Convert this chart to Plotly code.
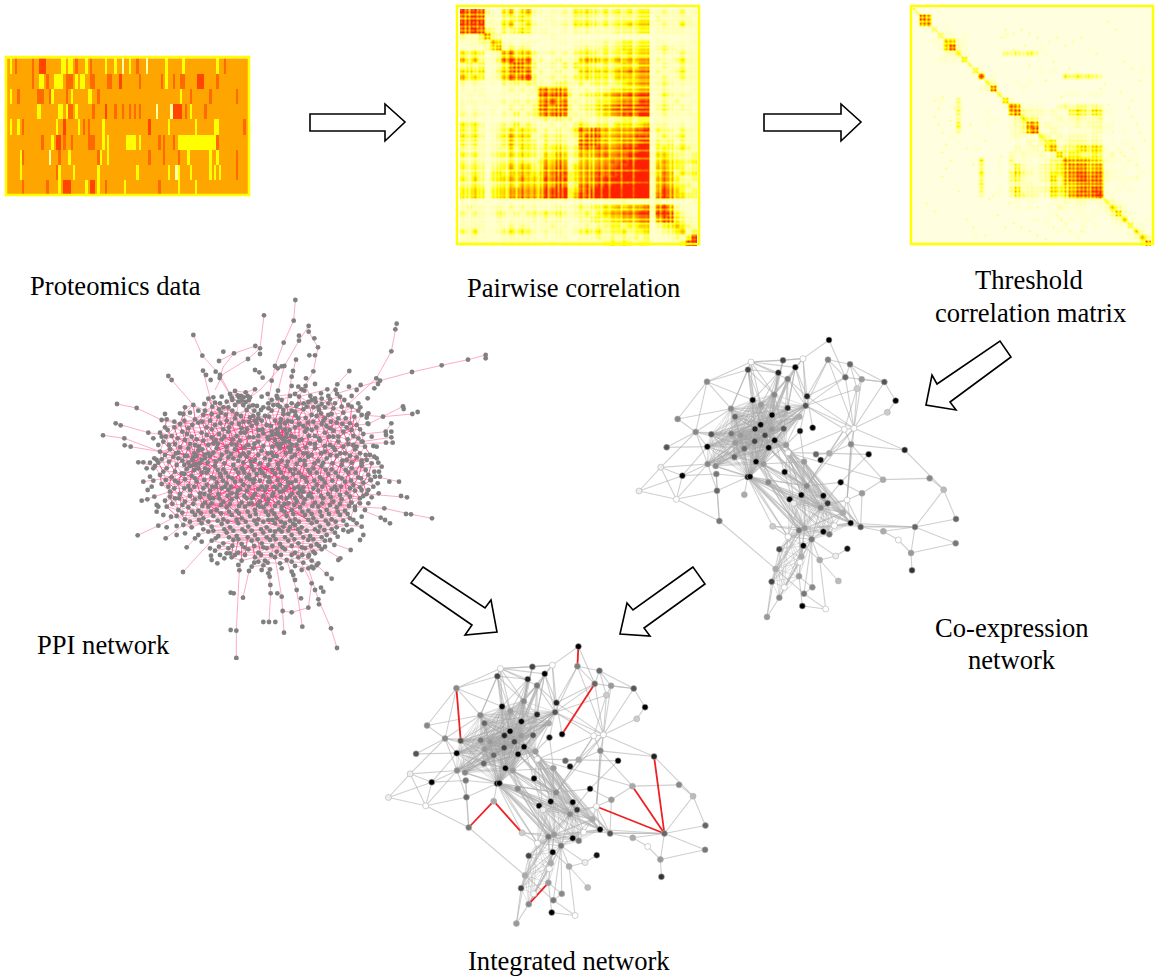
import plotly.graph_objects as go

# Proteomics panel: one list per level, per row, of the column numbers of the bars
prot_yellow = [
    [2, 23, 24, 26, 27, 33, 41, 45, 51, 66, 73, 87],
    [14, 15, 20, 21, 22, 23, 29, 31, 32, 66],
    [2, 19, 27, 34, 35, 72],
    [13, 14, 22, 23, 25, 29, 76],
    [2, 5, 21, 30, 40, 67, 78, 86, 87],
    [19, 40, 42, 50, 51, 52, 53, 55, 71, 72, 73, 74, 75, 76, 77, 78, 79, 80, 81, 82, 83, 84, 85, 86],
    [6, 26, 39, 42, 75, 84, 87],
    [6, 22, 28, 38, 54, 67, 71, 76, 84, 86, 88],
    [22, 33, 38, 49, 71, 78],
]
prot_dark = [
    [4, 11, 29, 35, 54, 90],
    [11, 17, 25, 26, 27, 35, 36, 42, 43, 55, 64, 69, 72, 73, 87],
    [5, 13, 14, 15, 18, 25, 38, 76, 84, 95],
    [26, 27, 36, 45, 48, 51, 53, 55, 74, 82],
    [7, 32, 34, 98],
    [15, 24, 27, 34, 35, 36, 63, 65, 69, 87],
    [7, 22, 38, 59, 65, 71, 95],
    [21, 95],
    [7, 17, 41, 63],
]
prot_deep = [
    [14, 15, 16],
    [47, 79, 80, 81],
    [],
    [41, 69, 70, 71, 72],
    [24, 59],
    [21, 22],
    [],
    [],
    [24, 25, 26, 35, 36],
]
prot_pale = [[48, 58], [], [], [62, 68], [], [], [18], [70], []]
prot_cols = 100

# Pairwise correlation, lower triangle of coarse blocks, 0 to 9
pair_rows = [
    "8", "79", "898", "7897", "21136", "011226", "0010257", "43430126",
    "535201378", "2323002468", "44340135676", "534301257678", "2121010323233",
    "10110001212127", "010100010101178", "1110101212122678", "10100101212137867",
    "212101021312367787", "1110000111112232323", "43420123242321121213",
    "323101234343312121247", "4342013464542232322368", "32310123534331323212787",
    "212101224243323343236767", "3231023343433243542355566",
    "21210122323223546512454556", "323202335354336576245656667",
    "2232034344544466773456676778", "32420344546454768734566777889",
    "223202334354546576236767778889", "3343034455656577883467788889999",
    "33430344556565779835778888999999", "101000010101110101011010111211111",
    "1211012121212111211232334454555627", "21210132121232323212232345566677188",
    "111100211111212121112233344555661678", "1111001121211112110112122332334402345",
    "32410123434321212112343423342334012346", "011000011111101011001112121212120001213",
    "1010010111111101011111112323212210011378",
]
# strength of each of the 120 rows/columns, gives the plaid
pair_band = ("683728583748" "836473736" "572386727483685" "363" "274682575728376" "464364"
             "683572728683" "687378678387688378788879" "353" "573685727376" "464" "586768")

# Threshold correlation, lower triangle of coarse blocks, 0 to 9
thr_rows = [
    "1", "08", "078", "0002", "00003", "000117", "0000168", "00000225",
    "000011114", "0000000003", "00000000004", "000000000019", "0000000000004",
    "00000000000127", "000000000000004", "0000100300000004", "00000003000000018",
    "000000040000100079", "0000000300000100135", "00000004000010001236",
    "000000030000000012368", "0000001000100000121114", "00000001000000000102135",
    "000000000010000002112156", "0000000000000000212112125",
    "00000000000400103111012337", "000000000003001024211233467",
    "0000000000040010353212344678", "00000000000300003421123536789",
    "000000000004001023221124366789", "0000000000030010352222354567889",
    "00000000000200102432212434677889", "000000000000000001011001121221114",
    "0000000000000000010100102111100125", "00000000000000000000000101011010136",
    "000000000000000000001010101011000125", "0000000000000000000000100100101000114",
    "00000000000000000000000010101000000015", "000000000010000000000000000100000000126",
    "0000000000000000000000000000000000010037",
]
thr_band = ("384738273948" "827362847" "362847382637483" "273" "748362859473826" "273849"
            "738473625847" "748392847385748392748593" "273" "483726384736" "382" "473826")
# faint separate dots, row and column in the 120 grid
thr_dot_r = [46, 50, 54, 58, 62, 68, 72, 76, 80, 84, 88, 92, 98, 102, 106, 110, 114, 14, 18, 22, 26, 30, 34, 38,
             42, 46, 50, 54, 58, 62, 66, 70, 74, 78, 94, 98, 100, 104, 108, 112, 20, 28, 36, 44, 52]
thr_dot_c = [10, 12, 10, 12, 14, 16, 14, 18, 16, 14, 20, 22, 6, 10, 26, 30, 36, 44, 56, 62, 70, 78, 88, 96,
             104, 110, 108, 110, 112, 114, 116, 110, 106, 112, 40, 48, 62, 72, 76, 84, 50, 58, 66, 74, 82]

# Co-expression network, node positions read in a 3x crop of the picture
net_x = [597, 594, 660, 646, 695, 681, 763, 797, 772, 672, 643, 663, 824, 716, 598, 558, 572, 548, 510, 527,
         531, 519, 496, 459, 445, 473, 363, 354, 231, 143, 197, 110, 92, 27, 139, 157, 232, 244, 304, 303,
         315, 368, 393, 433, 473, 426, 392, 375, 425, 461, 405, 374, 434, 416, 343, 316, 332, 313, 233, 257,
         259, 261, 268, 378, 400, 353, 360, 343, 415, 464, 468, 474, 508, 522, 530, 514, 479, 580, 593, 572,
         632, 696, 759, 899, 941, 978, 855, 977, 843, 846, 760, 805, 692, 662, 651, 639, 613, 580, 598, 545,
         524, 507, 428, 474, 520, 448, 514, 510, 569, 617, 652, 437, 425, 507, 463, 547, 522, 448, 411, 517,
         587, 625, 491]
net_y = [30, 89, 103, 142, 148, 176, 156, 212, 247, 295, 298, 343, 360, 373, 370, 373, 390, 293, 303, 227,
         199, 86, 112, 91, 128, 147, 96, 119, 155, 267, 306, 352, 412, 483, 508, 437, 350, 313, 311, 236,
         260, 210, 224, 194, 234, 255, 284, 297, 298, 296, 316, 334, 331, 353, 356, 338, 316, 381, 402, 408,
         432, 482, 573, 395, 402, 441, 440, 494, 457, 426, 345, 368, 260, 395, 468, 495, 508, 497, 520, 533,
         457, 490, 449, 445, 479, 567, 591, 640, 669, 721, 604, 630, 591, 579, 510, 548, 587, 605, 613, 628,
         594, 601, 589, 620, 647, 658, 680, 697, 690, 678, 656, 717, 755, 739, 772, 772, 791, 803, 861, 828,
         837, 753, 520]
net_shade = ["#000", "#808080", "#666", "#666", "#999", "#ccc", "#555", "#000", "#ccc", "#fff", "#fff", "#888",
             "#222", "#000", "#aaa", "#666", "#111", "#000", "#111", "#555", "#222", "#fff", "#000", "#444",
             "#222", "#777", "#fff", "#444", "#888", "#888", "#888", "#555", "#eee", "#eee", "#fff", "#000",
             "#000", "#555", "#777", "#888", "#666", "#000", "#999", "#888", "#222", "#000", "#000", "#222",
             "#999", "#555", "#444", "#444", "#000", "#000", "#666", "#999", "#999", "#666", "#888", "#888",
             "#777", "#666", "#777", "#000", "#999", "#111", "#000", "#aaa", "#888", "#000", "#999", "#fff",
             "#aaa", "#999", "#888", "#000", "#000", "#000", "#333", "#888", "#000", "#999", "#aaa", "#888",
             "#bbb", "#666", "#666", "#777", "#999", "#333", "#aaa", "#fff", "#555", "#000", "#fff", "#aaa",
             "#fff", "#000", "#777", "#777", "#999", "#777", "#ccc", "#fff", "#000", "#444", "#aaa", "#fff",
             "#aaa", "#eee", "#111", "#aaa", "#444", "#999", "#fff", "#888", "#777", "#888", "#999", "#000",
             "#fff", "#bbb", "#eee"]

# links as hub node, neighbours
net_links = [
    (0, [21, 3]), (1, [2, 20, 19, 9, 3]), (2, [3, 6, 5, 4]), (3, [6, 20, 19, 9]), (4, [6, 5, 9]),
    (5, [9, 10, 19]), (6, [7, 9]), (7, [8]), (8, [9]), (9, [19, 20, 12, 11, 10, 14, 74]),
    (10, [11, 14, 19, 74, 71]), (11, [12, 14, 94]), (12, [84]), (13, [14, 80]), (14, [15, 74, 71]),
    (21, [22, 26, 25, 20, 19, 23]), (26, [23, 28, 27, 24, 25, 22, 41, 39, 43, 42]), (27, [28, 39, 41, 24, 42, 43, 46, 47]),
    (28, [29, 30, 41, 39]), (29, [30, 39]), (30, [31, 32, 37, 58, 36, 38, 39, 55]), (31, [36]),
    (32, [33, 34, 35, 58]), (33, [34, 35]), (34, [35, 58, 61, 62]), (35, [58, 60, 36]), (62, [61, 60, 111]),
    (61, [60, 65, 58]), (60, [65]), (82, [83, 81, 11, 71]), (83, [84]), (84, [85, 86]), (85, [86]),
    (86, [87, 88, 90, 92, 93, 96]), (87, [88]), (88, [89, 91]), (90, [91, 92]), (81, [92, 80, 94]),
    (94, [9, 11, 95, 92, 93, 78, 79]), (80, [79, 74]), (115, [113, 116, 99]), (119, [120]), (120, [108, 116]),
    (121, [108]), (109, [108, 110, 99]), (108, [99, 104]), (67, [65]), (118, [117, 111, 112]),
    (19, [22, 25, 18]), (20, [22, 25, 17]), (43, [22, 23, 24, 25]), (70, [18]), (73, [18]),
    (22, [44, 45, 49, 50]), (24, [41, 42, 45, 46, 48, 50]), (25, [42, 44, 45, 48, 49, 50]), (23, [43, 45]),
    (65, [102, 103, 99, 100, 101, 122, 68, 74, 79, 93, 95]), (66, [100, 101, 103, 74, 75, 92, 68]),
    (71, [73, 74, 75, 77, 78, 79, 69, 122]), (64, [73, 74, 78, 79, 68, 100, 101]), (73, [75, 77, 78, 79, 93, 92, 95, 100]),
    (70, [74, 75, 77, 78, 79, 93, 92]), (53, [74, 78, 79, 93]), (52, [74, 79, 78, 93, 92, 122]), (69, [74, 78, 79, 95]),
    (68, [76, 100, 101, 79, 122]), (63, [100, 101, 79, 74, 76]), (100, [105, 111, 106, 107]), (101, [105, 111, 106, 107, 112]),
    (102, [100, 101, 103]), (116, [99, 111]), (119, [113]),
]
# groups of nodes that are all linked to each other
net_cliques = [
    [36, 37, 38, 39, 40, 41, 42, 43, 44, 45, 46, 47, 48, 49, 50, 51, 52, 53, 54, 55, 56, 57, 58, 59, 63, 64, 65, 66, 70, 72, 19],
    [74, 75, 76, 77, 78, 79, 93, 95, 96, 97, 98, 99, 100, 101, 103, 122],
    [99, 103, 104, 105, 106, 107, 111, 112, 113, 114, 117],
]
red_links = [(0, 1), (3, 17), (28, 37), (62, 67), (67, 102), (113, 117), (94, 86), (82, 86), (12, 86)]

# PPI network nodes, read in a 3x crop of the picture
ppi_outer = [
    (601, 30), (507, 76), (596, 92), (641, 108), (641, 125), (612, 137), (612, 152), (566, 158), (658, 145), (669, 172),
    (643, 196), (660, 196), (603, 209), (655, 244), (295, 135), (322, 197), (385, 185), (417, 190), (481, 168), (495, 175),
    (495, 192), (459, 207), (372, 213), (362, 245), (375, 255), (374, 264), (324, 242), (333, 255), (347, 270), (220, 258),
    (230, 270), (540, 228), (548, 235), (560, 229), (568, 228), (480, 240), (493, 247), (503, 263), (530, 272), (549, 302),
    (594, 243), (590, 260), (633, 265), (660, 282), (697, 298), (763, 243), (727, 283), (722, 300), (797, 285), (785, 300),
    (905, 101), (901, 118), (889, 184), (844, 265), (855, 272), (849, 282), (838, 295), (951, 246), (1040, 226), (1119, 209),
    (1172, 195), (1172, 205), (924, 349), (926, 357), (952, 372), (968, 366), (864, 380), (889, 400), (872, 425), (889, 425),
    (873, 435), (889, 442), (893, 458), (873, 458), (820, 370), (815, 383), (820, 402), (762, 290), (818, 325), (796, 352),
    (66, 342), (125, 354), (62, 400), (77, 406), (24, 436), (88, 445), (89, 466), (107, 470), (160, 428), (175, 445),
    (200, 390), (210, 372), (130, 517), (145, 517), (165, 518), (185, 510), (155, 535), (175, 535), (145, 575), (175, 572),
    (158, 600), (157, 628), (140, 632), (185, 645), (185, 665), (190, 707), (128, 736), (215, 712), (212, 745), (245, 735),
    (275, 772), (264, 846), (350, 810), (367, 820), (348, 797), (388, 805), (405, 790), (433, 841), (462, 843), (407, 908),
    (416, 910), (444, 923), (524, 860), (526, 885), (527, 910), (547, 910), (560, 920), (505, 996), (522, 996), (541, 996),
    (407, 1020), (424, 1022), (424, 1104), (567, 1028), (622, 1010), (563, 963), (590, 967), (640, 953), (605, 900), (618, 925),
    (650, 880), (660, 900), (670, 928), (672, 943), (685, 905), (678, 893), (708, 1015), (726, 1074), (595, 855), (600, 870),
    (710, 866), (695, 852), (730, 810), (736, 805), (767, 780), (718, 765), (1011, 685), (948, 673), (933, 672), (885, 700),
    (870, 690), (857, 683), (868, 655), (936, 622), (918, 618), (912, 575), (883, 575), (851, 610), (830, 622), (820, 600),
    (855, 560), (838, 545), (860, 530), (845, 505), (800, 520), (812, 495), (803, 455), (785, 470), (835, 468), (800, 600),
    (795, 640), (780, 660), (775, 690), (800, 710), (805, 735), (795, 750), (760, 725),
]
ppi_core = [
    (405, 312), (420, 303), (438, 318), (452, 307), (465, 322), (480, 298), (545, 318), (560, 330), (600, 312), (620, 298), (632, 288), (650, 330), (680, 326), (700, 340),
    (340, 326), (360, 338), (385, 352), (410, 322), (430, 335), (445, 345), (462, 330), (520, 340), (548, 325), (575, 348), (590, 362), (612, 320), (640, 336), (655, 352), (672, 360), (705, 328), (735, 320), (760, 345),
    (270, 352), (295, 345), (330, 362), (352, 350), (378, 368), (400, 352), (425, 372), (455, 360), (475, 378), (490, 385), (530, 362), (555, 350), (580, 372), (600, 365), (625, 358), (650, 375), (670, 350), (690, 385), (715, 355), (745, 368), (770, 350), (790, 362),
    (215, 388), (265, 372), (300, 388), (325, 375), (345, 392), (370, 380), (395, 392), (420, 385), (445, 395), (465, 382), (485, 400), (510, 378), (540, 392), (565, 372), (590, 395), (610, 385), (640, 398), (665, 378), (685, 392), (700, 375), (730, 385), (765, 400), (800, 375),
    (210, 412), (255, 402), (280, 415), (310, 398), (335, 412), (360, 405), (385, 418), (410, 400), (440, 415), (470, 408), (490, 420), (515, 405), (545, 418), (570, 400), (600, 412), (625, 408), (650, 420), (680, 402), (705, 415), (725, 398), (755, 412), (785, 405),
    (195, 428), (230, 438), (262, 425), (290, 440), (320, 428), (350, 442), (372, 432), (400, 425), (425, 438), (450, 428), (475, 442), (505, 430), (530, 425), (555, 438), (575, 430), (600, 442), (630, 425), (660, 438), (690, 428), (715, 440), (745, 425), (775, 438), (805, 432),
    (205, 455), (240, 462), (270, 450), (300, 465), (325, 452), (355, 460), (380, 448), (410, 462), (435, 452), (460, 465), (490, 455), (520, 448), (545, 462), (570, 455), (590, 465), (620, 448), (645, 460), (675, 452), (705, 465), (730, 455), (760, 462), (800, 455),
    (195, 485), (225, 478), (250, 488), (280, 475), (310, 482), (340, 490), (365, 475), (395, 485), (420, 478), (445, 490), (475, 475), (500, 482), (530, 488), (555, 475), (585, 485), (610, 478), (635, 490), (660, 475), (690, 485), (720, 480), (750, 490), (780, 478),
    (200, 508), (235, 500), (262, 512), (295, 503), (320, 510), (345, 498), (375, 508), (400, 502), (430, 512), (455, 500), (480, 510), (510, 505), (535, 498), (560, 512), (590, 502), (615, 510), (640, 500), (670, 512), (695, 505), (725, 498), (755, 510), (785, 502), (815, 510),
    (180, 528), (215, 535), (245, 525), (275, 538), (305, 522), (330, 535), (360, 528), (385, 538), (415, 525), (440, 535), (470, 528), (495, 538), (520, 525), (550, 535), (575, 528), (600, 538), (630, 525), (655, 535), (680, 528), (710, 538), (740, 525), (770, 535), (800, 528), (830, 520),
    (195, 555), (230, 562), (260, 550), (290, 558), (320, 548), (350, 562), (375, 552), (400, 560), (430, 548), (455, 562), (485, 552), (510, 558), (540, 550), (565, 562), (595, 552), (620, 560), (645, 548), (675, 562), (700, 552), (730, 560), (760, 548), (790, 562), (820, 555),
    (200, 582), (220, 590), (250, 578), (280, 588), (305, 575), (335, 585), (365, 578), (390, 590), (420, 575), (445, 585), (475, 578), (500, 590), (525, 575), (555, 585), (580, 578), (610, 590), (635, 575), (665, 585), (690, 578), (720, 590), (750, 575), (775, 585), (805, 578), (835, 590),
    (225, 605), (255, 612), (285, 600), (315, 610), (345, 602), (370, 612), (400, 600), (425, 610), (455, 602), (480, 612), (510, 600), (535, 610), (565, 602), (590, 612), (615, 600), (645, 610), (670, 602), (700, 612), (725, 600), (755, 610), (780, 602), (815, 612),
    (210, 632), (240, 625), (270, 635), (300, 628), (330, 638), (355, 625), (385, 635), (410, 628), (440, 638), (470, 625), (495, 635), (520, 628), (550, 638), (575, 625), (605, 635), (630, 628), (660, 638), (685, 625), (715, 635), (740, 628), (770, 638), (795, 625),
    (215, 650), (250, 660), (280, 652), (310, 662), (340, 650), (365, 660), (395, 652), (425, 662), (450, 650), (480, 660), (505, 652), (530, 662), (560, 650), (590, 660), (615, 652), (640, 662), (670, 650), (695, 660), (725, 652), (750, 662), (780, 650),
    (245, 678), (270, 688), (300, 675), (325, 685), (355, 678), (385, 688), (410, 675), (440, 685), (465, 678), (490, 688), (520, 675), (545, 685), (575, 678), (600, 688), (630, 675), (655, 685), (680, 678), (710, 688), (735, 675), (765, 685),
    (265, 705), (290, 712), (320, 700), (350, 710), (380, 702), (405, 712), (430, 700), (460, 710), (485, 702), (515, 712), (540, 700), (565, 710), (595, 702), (620, 712), (650, 700), (675, 710), (700, 702), (725, 712), (755, 705),
    (310, 735), (340, 725), (370, 738), (395, 728), (425, 738), (450, 725), (480, 735), (505, 728), (535, 738), (560, 725), (590, 735), (615, 728), (645, 738), (670, 725), (695, 735), (720, 728),
    (350, 752), (385, 760), (415, 750), (440, 762), (470, 752), (500, 760), (525, 750), (555, 762), (580, 752), (610, 760), (640, 750), (665, 762), (690, 752),
    (360, 782), (400, 775), (430, 788), (460, 778), (490, 788), (515, 775), (545, 785), (570, 778), (600, 788), (630, 775), (655, 785), (680, 778),
    (410, 802), (440, 812), (480, 802), (510, 812), (540, 802), (575, 810), (610, 802), (650, 812), (670, 820),
    (470, 830), (505, 826), (525, 838), (600, 828), (640, 835), (665, 826),
]
# the nodes that fill the gaps of the blanket above
ppi_fill = [
    (412, 330), (428, 316), (452, 336), (474, 346), (590, 340), (604, 348), (626, 340), (662, 336), (690, 352), (720, 340),
    (350, 372), (372, 358), (392, 374), (412, 362), (438, 378), (462, 396), (500, 392), (522, 380), (558, 388), (578, 392), (602, 376), (632, 384), (655, 395), (678, 370), (708, 395), (752, 385), (778, 380),
    (238, 412), (268, 392), (292, 405), (322, 395), (350, 418), (376, 400), (402, 412), (432, 402), (456, 418), (480, 392), (502, 418), (528, 408), (556, 398), (584, 420), (612, 402), (636, 416), (664, 412), (694, 408), (716, 422), (742, 402), (770, 420), (795, 418),
    (212, 440), (248, 445), (276, 432), (305, 448), (335, 435), (362, 450), (388, 440), (414, 448), (438, 428), (462, 442), (490, 438), (518, 442), (542, 432), (565, 448), (588, 438), (612, 452), (642, 438), (672, 445), (702, 440), (730, 440), (758, 448), (790, 445),
    (222, 465), (255, 472), (285, 462), (312, 470), (340, 465), (368, 462), (395, 470), (424, 465), (448, 472), (478, 462), (505, 468), (532, 470), (558, 462), (580, 472), (605, 465), (632, 472), (660, 462), (690, 468), (715, 472), (745, 470), (775, 465), (810, 470),
    (210, 495), (243, 490), (270, 498), (298, 490), (328, 495), (355, 488), (380, 495), (408, 492), (435, 498), (462, 488), (490, 495), (518, 490), (545, 498), (572, 490), (600, 495), (625, 490), (650, 495), (678, 490), (706, 495), (736, 490), (765, 498), (795, 490), (825, 495),
    (190, 518), (222, 515), (250, 505), (280, 518), (310, 535), (338, 518), (362, 515), (388, 520), (415, 505), (445, 518), (468, 515), (495, 520), (525, 510), (548, 522), (578, 515), (605, 522), (628, 512), (658, 520), (685, 518), (712, 520), (742, 512), (770, 518), (800, 512),
    (205, 545), (240, 545), (268, 552), (298, 540), (335, 548), (368, 540), (392, 548), (422, 538), (448, 548), (476, 540), (503, 548), (532, 540), (558, 548), (585, 540), (612, 548), (640, 540), (665, 548), (692, 540), (722, 548), (752, 540), (782, 548), (812, 540),
    (212, 570), (240, 572), (270, 568), (300, 565), (328, 570), (358, 565), (384, 572), (412, 565), (438, 572), (465, 568), (495, 572), (522, 562), (548, 570), (575, 565), (602, 572), (630, 565), (658, 572), (682, 568), (712, 572), (740, 565), (768, 572), (798, 565), (828, 570),
    (238, 595), (268, 595), (298, 590), (325, 595), (352, 590), (380, 595), (408, 590), (435, 598), (462, 590), (490, 598), (515, 590), (545, 595), (572, 592), (598, 595), (625, 592), (655, 595), (682, 590), (710, 598), (738, 590), (765, 595), (795, 592),
    (225, 620), (252, 625), (285, 618), (315, 622), (342, 618), (372, 625), (398, 618), (425, 622), (448, 618), (475, 618), (505, 618), (532, 618), (558, 622), (585, 618), (618, 620), (650, 622), (678, 618), (708, 622), (735, 615), (765, 620), (805, 618),
    (232, 642), (262, 645), (295, 642), (322, 648), (350, 640), (378, 645), (405, 642), (432, 648), (462, 642), (488, 645), (515, 642), (540, 648), (568, 642), (598, 645), (625, 640), (652, 648), (682, 640), (705, 645), (735, 642), (762, 648),
    (262, 668), (292, 665), (318, 670), (348, 665), (378, 670), (402, 665), (432, 670), (458, 665), (482, 672), (512, 665), (538, 672), (568, 665), (595, 672), (622, 665), (650, 672), (675, 665), (702, 672), (728, 665), (758, 672),
    (285, 695), (312, 690), (340, 695), (368, 692), (398, 695), (425, 690), (452, 695), (478, 692), (505, 695), (532, 690), (558, 695), (585, 692), (612, 695), (640, 690), (665, 695), (692, 692), (722, 695), (745, 692),
    (325, 718), (355, 722), (388, 718), (415, 722), (442, 718), (470, 722), (498, 718), (525, 722), (552, 718), (580, 722), (608, 718), (635, 722), (660, 718), (688, 720), (710, 718),
    (362, 745), (402, 742), (430, 748), (458, 742), (488, 748), (515, 742), (542, 748), (570, 742), (598, 748), (625, 742), (655, 748), (680, 742),
    (372, 770), (412, 768), (448, 772), (478, 768), (505, 772), (532, 768), (562, 772), (590, 768), (620, 772), (648, 768), (672, 768),
    (420, 795), (450, 795), (498, 795), (528, 795), (558, 795), (590, 795), (622, 795), (642, 795),
    (490, 815), (518, 818), (555, 820), (590, 815), (625, 818), (655, 835),
]
# the rim of the blanket, and clumps where nodes touch
ppi_rim = [
    (432, 322), (446, 322), (458, 318), (440, 332), (420, 345), (478, 362), (490, 372), (498, 360), (486, 348), (505, 352),
    (530, 330), (535, 345), (548, 345), (500, 320), (518, 312), (585, 318), (590, 288), (610, 290), (628, 302), (646, 318),
    (660, 325), (678, 310), (700, 318), (726, 312), (748, 330), (770, 318), (790, 340), (816, 375), (818, 400), (830, 440),
    (845, 470), (838, 500), (850, 518), (848, 580), (852, 545), (840, 560), (826, 570), (820, 640), (810, 660), (800, 680),
    (785, 700), (770, 720), (745, 720), (728, 740), (705, 750), (690, 770), (660, 790), (640, 800), (650, 830), (620, 840),
    (590, 845), (560, 835), (520, 850), (500, 840), (478, 818), (430, 825), (395, 790), (375, 795), (345, 775), (320, 755),
    (300, 745), (270, 730), (245, 708), (228, 680), (205, 675), (190, 650), (178, 620), (170, 590), (165, 560), (178, 505),
    (190, 465), (200, 440), (218, 420), (238, 395), (255, 370), (285, 368), (310, 362), (328, 342), (355, 322), (380, 320),
    (395, 335), (375, 340), (462, 350), (520, 355), (565, 360), (610, 342), (635, 350), (680, 342), (710, 372), (740, 350),
    (530, 436), (548, 428), (560, 445), (572, 442), (582, 455), (570, 418), (556, 412), (540, 450), (552, 470), (588, 478),
    (292, 510), (305, 498), (315, 520), (330, 505), (285, 528), (298, 525), (268, 525), (340, 540), (322, 478), (276, 498),
    (445, 540), (462, 555), (478, 568), (500, 548), (520, 575), (538, 590), (555, 605), (575, 590), (590, 578), (610, 610),
    (625, 605), (640, 618), (600, 625), (580, 640), (560, 660), (570, 700), (585, 712), (600, 705), (540, 725), (520, 690),
    (495, 650), (470, 640), (455, 625), (430, 600), (410, 610), (395, 580), (378, 560), (362, 590), (345, 625), (328, 612),
]

# PPI links as short polylines
ppi_spokes = [
    [(601, 30), (596, 92), (566, 158), (540, 228), (520, 330)], [(507, 76), (495, 175), (459, 207), (385, 252), (360, 300)],
    [(641, 108), (612, 152), (568, 228), (545, 318)], [(641, 125), (669, 172), (655, 244), (612, 320)], [(295, 135), (322, 197), (375, 255), (405, 312)],
    [(417, 190), (385, 230), (374, 264), (410, 322)], [(481, 168), (417, 190), (372, 213)], [(905, 101), (889, 184), (844, 265), (762, 340)],
    [(1172, 195), (1119, 209), (1040, 226), (951, 246), (855, 272), (727, 310)], [(952, 372), (864, 380), (800, 375)], [(924, 349), (820, 402), (785, 405)],
    [(889, 400), (872, 425), (805, 432)], [(889, 442), (800, 455)], [(893, 458), (760, 462)], [(66, 342), (125, 354), (200, 390), (255, 402)],
    [(62, 400), (160, 428), (230, 438)], [(24, 436), (88, 445), (195, 485)], [(89, 466), (107, 470), (195, 485)], [(130, 517), (180, 528)],
    [(145, 575), (230, 562)], [(140, 632), (225, 605)], [(128, 736), (190, 707), (245, 678)], [(264, 846), (350, 752)], [(275, 772), (310, 735)],
    [(212, 745), (265, 705)], [(424, 1104), (424, 1022), (433, 841), (440, 812)], [(444, 923), (462, 843), (480, 802)], [(524, 860), (527, 910), (522, 996)],
    [(567, 1028), (560, 920), (540, 802)], [(622, 1010), (605, 900), (575, 810)], [(563, 963), (590, 967), (640, 953), (650, 880), (610, 802)],
    [(726, 1074), (708, 1015), (670, 928), (640, 835)], [(710, 866), (650, 812)], [(736, 805), (665, 762)], [(767, 780), (690, 752)],
    [(1011, 685), (948, 673), (868, 655), (780, 650)], [(936, 622), (815, 612)], [(912, 575), (820, 555)], [(885, 700), (857, 683), (800, 660)],
    [(860, 530), (770, 535)], [(845, 505), (755, 510)], [(800, 710), (755, 705)], [(775, 690), (725, 652)], [(763, 243), (727, 283), (672, 360)],
    [(560, 229), (495, 300), (465, 322)], [(603, 209), (590, 260), (575, 348)], [(697, 298), (612, 320)], [(220, 258), (295, 345)], [(324, 242), (352, 350)],
]
ppi_hot = [
    [(530, 425), (590, 465), (545, 395), (575, 490), (520, 448), (600, 442), (555, 380), (570, 475), (535, 470), (585, 420)],
    [(250, 488), (345, 530), (280, 475), (320, 560), (305, 490), (360, 510), (270, 535), (335, 490), (290, 550), (300, 470)],
    [(420, 560), (530, 640), (455, 600), (560, 700), (510, 620), (640, 690), (565, 640), (600, 720), (520, 700), (610, 650)],
    [(450, 500), (560, 570), (470, 650), (600, 590), (500, 530), (640, 560), (540, 510), (620, 650), (490, 600), (660, 610)],
    [(340, 600), (400, 650), (320, 640), (420, 590), (370, 620), (450, 690), (350, 660), (440, 610)],
    [(400, 440), (480, 520), (420, 480), (510, 470), (440, 530), (530, 540)],
]
# which neighbours in the node lists are linked
ppi_link_steps = [1, 2, 20, 22, 24]
ppi_hot_steps = [21, 23]
ppi_link_reach = 62

labels = ["Proteomics data", "Pairwise correlation", "Threshold", "correlation matrix", "PPI network",
          "Co-expression", "network", "Integrated network"]
label_x = [115, 573, 1029, 1030, 103, 1012, 1012, 569]
label_y = [286, 288, 280, 313, 645, 628, 660, 961]

heat = [[0, "#ffffe0"], [0.15, "#ffffa0"], [0.33, "#ffff00"], [0.6, "#ffa500"], [0.8, "#ff6a00"], [1, "#ff2000"]]


def plaid(rows, band, scale, lift):
    # coarse blocks of 3x3 cells scaled by the row and column strengths
    n = len(rows) * 3
    z = [[0.0] * n for _ in range(n)]
    for i in range(n):
        for j in range(i + 1):
            block = int(rows[i // 3][j // 3])
            v = (block ** 1.4 * scale + lift) * (int(band[i]) + 3) / 9 * (int(band[j]) + 3) / 9
            z[i][j] = z[j][i] = min(v, 9)
    return z


prot_z = []
for r in range(9):
    row = [0.6] * prot_cols
    for c in prot_yellow[r]:
        row[c] = 0.33
    for c in prot_dark[r]:
        row[c] = 0.8
    for c in prot_deep[r]:
        row[c] = 0.9
    for c in prot_pale[r]:
        row[c] = 0.15
    prot_z.append(row)

pair_z = plaid(pair_rows, pair_band, 0.4, 0.5)
thr_z = plaid(thr_rows, thr_band, 0.38, 0)
for i in range(120):
    thr_z[i][i] = max(thr_z[i][i], 2.8)
for r, c in zip(thr_dot_r, thr_dot_c):
    thr_z[r][c] = thr_z[c][r] = max(thr_z[r][c], 1.8)

fig = go.Figure()

fig.add_trace(go.Heatmap(z=prot_z, x0=6.2, dx=2.43, y0=66, dy=15.2, zmin=0, zmax=1, zsmooth=False,
                         colorscale=heat, showscale=False, hoverinfo="skip"))
fig.add_trace(go.Heatmap(z=pair_z, x0=461, dx=1.973, y0=10, dy=1.973, zmin=0, zmax=9, zsmooth="best",
                         colorscale=heat, showscale=False, hoverinfo="skip"))
fig.add_trace(go.Heatmap(z=thr_z, x0=914, dx=1.983, y0=9, dy=1.983, zmin=0, zmax=9, zsmooth="best",
                         colorscale=heat, showscale=False, hoverinfo="skip"))


def segs(pairs):
    xs, ys = [], []
    for a, b in pairs:
        xs += [net_x[a], net_x[b], None]
        ys += [net_y[a], net_y[b], None]
    return xs, ys


plain = [(h, n) for h, ns in net_links for n in ns]
mesh = []
for group in net_cliques:
    for i, a in enumerate(group):
        mesh += [(a, b) for b in group[i + 1:]]
line_x, line_y = segs(plain)
mesh_x, mesh_y = segs(mesh)
red_x, red_y = segs(red_links)

for ax, ay, with_red in [("x2", "y2", False), ("x3", "y3", True)]:
    fig.add_trace(go.Scatter(x=mesh_x, y=mesh_y, xaxis=ax, yaxis=ay, mode="lines", hoverinfo="skip",
                             line=dict(color="rgba(165,165,165,0.38)", width=0.9)))
    fig.add_trace(go.Scatter(x=line_x, y=line_y, xaxis=ax, yaxis=ay, mode="lines", hoverinfo="skip",
                             line=dict(color="rgba(175,175,175,0.6)", width=1.1)))
    if with_red:
        fig.add_trace(go.Scatter(x=red_x, y=red_y, xaxis=ax, yaxis=ay, mode="lines", hoverinfo="skip",
                                 line=dict(color="#f02020", width=1.8)))
    fig.add_trace(go.Scatter(x=net_x, y=net_y, xaxis=ax, yaxis=ay, mode="markers", hoverinfo="skip",
                             marker=dict(size=6, color=net_shade, line=dict(color="#b0b0b0", width=0.6))))


def paths(groups):
    xs, ys = [], []
    for g in groups:
        xs += [p[0] for p in g] + [None]
        ys += [p[1] for p in g] + [None]
    return xs, ys


def near_links(steps):
    out = []
    for nodes in (ppi_core, ppi_fill):
        for step in steps:
            for a, b in zip(nodes, nodes[step:]):
                if abs(a[0] - b[0]) + abs(a[1] - b[1]) < ppi_link_reach:
                    out.append([a, b])
    return out


px_s, py_s = paths(ppi_spokes + near_links(ppi_link_steps))
fig.add_trace(go.Scatter(x=px_s, y=py_s, xaxis="x4", yaxis="y4", mode="lines", hoverinfo="skip",
                         line=dict(color="rgba(255,125,170,0.65)", width=1)))
px_h, py_h = paths(ppi_hot + near_links(ppi_hot_steps))
fig.add_trace(go.Scatter(x=px_h, y=py_h, xaxis="x4", yaxis="y4", mode="lines", hoverinfo="skip",
                         line=dict(color="rgba(255,30,115,0.7)", width=1)))
ppi_nodes = ppi_outer + ppi_core + ppi_fill + ppi_rim
fig.add_trace(go.Scatter(x=[p[0] for p in ppi_nodes], y=[p[1] for p in ppi_nodes], xaxis="x4", yaxis="y4",
                         mode="markers", hoverinfo="skip", marker=dict(size=4.8, color="#808080")))

# hollow block arrows, in picture pixels
arrows = [
    "M310,114 L385,114 L385,104 L405,122 L385,141 L385,131 L310,131 Z",
    "M764,114 L841,114 L841,104 L861,122 L841,141 L841,131 L764,131 Z",
    "M926,405 L932,375 L937,384 L1000,341 L1011,357 L950,402 L956,410 Z",
    "M423,567 L485,608 L491,600 L497,632 L465,635 L472,625 L411,583 Z",
    "M693,567 L633,610 L627,603 L620,634 L650,636 L644,628 L705,584 Z",
]
shapes = [dict(type="path", path=p, xref="x", yref="y", line=dict(color="#000", width=1.6), fillcolor="#fff")
          for p in arrows]
for x0, y0, x1, y1 in [(6, 57, 249, 195), (457, 6, 699, 244), (911, 6, 1153, 244)]:
    shapes.append(dict(type="rect", x0=x0, y0=y0, x1=x1, y1=y1, xref="x", yref="y",
                       line=dict(color="#ffff00", width=2.5), fillcolor="rgba(0,0,0,0)"))

annotations = [dict(text=t, x=x, y=y, xref="x", yref="y", showarrow=False, align="center",
                    font=dict(family="Liberation Serif", size=26.6, color="#000"))
               for t, x, y in zip(labels, label_x, label_y)]


def sub_axes(left, top, w, h):
    xa = dict(domain=[left / 1158, (left + w) / 1158], range=[0, w * 3], visible=False, fixedrange=True)
    ya = dict(domain=[1 - (top + h) / 980, 1 - top / 980], range=[h * 3, 0], visible=False, fixedrange=True)
    return xa, ya


x2, y2 = sub_axes(630, 330, 340, 300)
x3, y3 = sub_axes(379.4, 636.5, 340, 300)
x4, y4 = sub_axes(95, 290, 400, 370)
x2["anchor"], y2["anchor"] = "y2", "x2"
x3["anchor"], y3["anchor"] = "y3", "x3"
x4["anchor"], y4["anchor"] = "y4", "x4"

fig.update_layout(
    width=1158, height=980, margin=dict(l=0, r=0, t=0, b=0), showlegend=False,
    paper_bgcolor="#fff", plot_bgcolor="rgba(0,0,0,0)",
    xaxis=dict(domain=[0, 1], range=[0, 1158], visible=False, fixedrange=True),
    yaxis=dict(domain=[0, 1], range=[980, 0], visible=False, fixedrange=True),
    xaxis2=x2, yaxis2=y2, xaxis3=x3, yaxis3=y3, xaxis4=x4, yaxis4=y4,
    shapes=shapes, annotations=annotations,
)

fig.write_html("out.html", config=dict(displayModeBar=False),
               post_script="document.body.style.margin='0';")
